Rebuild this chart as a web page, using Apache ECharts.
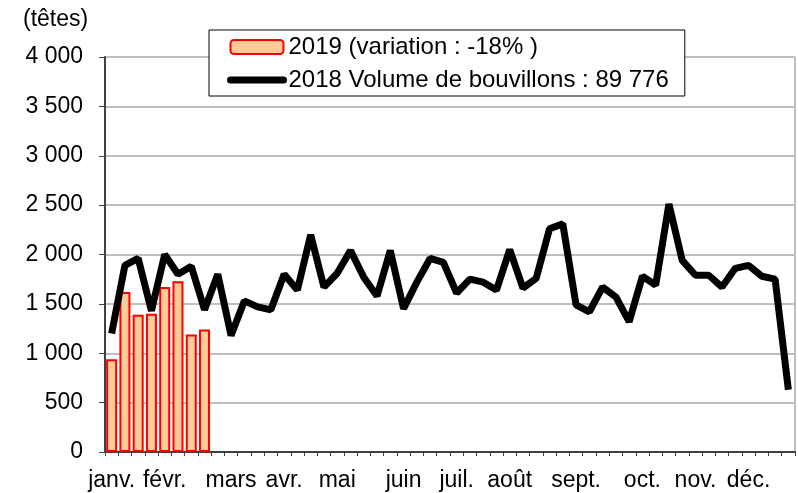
<!DOCTYPE html>
<html>
<head>
<meta charset="utf-8">
<script src="https://cdn.jsdelivr.net/npm/echarts@6/dist/echarts.min.js"></script>
<style>
  html, body { margin: 0; padding: 0; background: #fff; }
  #myChart { width: 798px; height: 493px; }
</style>
</head>
<body>
<div id="myChart"></div>
<script>
// month names and the week index where each one is written
const monthLabels = ["janv.", "févr.", "mars", "avr.", "mai", "juin", "juil.", "août", "sept.", "oct.", "nov.", "déc."];
const monthWeeks = [0, 4, 9, 13, 17, 22, 26, 30, 35, 40, 44, 48];

// 2019 weekly volumes (first 8 weeks)
const volume2019 = [940, 1620, 1390, 1400, 1670, 1730, 1190, 1240];

// 2018 weekly volumes (52 weeks)
const volume2018 = [
  1200, 1890, 1960, 1430, 2000, 1800, 1880, 1440, 1800, 1180,
  1530, 1470, 1440, 1800, 1640, 2200, 1670, 1810, 2040, 1770,
  1580, 2040, 1450, 1720, 1960, 1920, 1610, 1750, 1720, 1640,
  2050, 1660, 1760, 2260, 2310, 1490, 1420, 1670, 1570, 1320,
  1780, 1690, 2510, 1940, 1790, 1790, 1670, 1860, 1890, 1780,
  1750, 630
];

const yTicks = [0, 500, 1000, 1500, 2000, 2500, 3000, 3500, 4000];

const name2019 = "2019 (variation : -18% )";
const name2018 = "2018 Volume de bouvillons : 89 776";

let weeks = [];
for (let i = 0; i < volume2018.length; i++) {
  let k = monthWeeks.indexOf(i);
  weeks.push(k >= 0 ? monthLabels[k] : "");
}

function fmtThousands(v) {
  if (v < 1000) return String(v);
  return Math.floor(v / 1000) + " " + String(v % 1000).padStart(3, "0");
}

const font = "Liberation Sans, Arial, sans-serif";

const option = {
  animation: false,
  title: {
    text: "(têtes)",
    left: 23,
    top: 8,
    padding: 0,
    textStyle: { fontFamily: font, fontSize: 23, fontWeight: "normal", color: "#000" }
  },
  legend: {
    orient: "vertical",
    left: 209,
    top: 30,
    padding: [5, 16, 4, 18],
    itemWidth: 53,
    itemHeight: 14,
    itemGap: 9,
    backgroundColor: "#fff",
    borderColor: "#000",
    borderWidth: 1,
    textStyle: { fontFamily: font, fontSize: 24, color: "#000" },
    data: [
      { name: name2019 },
      {
        name: name2018,
        itemStyle: { opacity: 0 },
        lineStyle: { width: 7, cap: "round" }
      }
    ],
    z: 10
  },
  grid: {
    left: 105,
    right: 3,
    top: 57,
    bottom: 41,
    show: true,
    borderColor: "#808080",
    borderWidth: 1
  },
  xAxis: {
    type: "category",
    data: weeks,
    boundaryGap: true,
    axisLine: { lineStyle: { color: "#404040", width: 2 } },
    axisTick: { show: true, interval: 0, length: 4, lineStyle: { color: "#404040", width: 1 } },
    axisLabel: {
      interval: 0,
      margin: 17,
      fontFamily: font,
      fontSize: 23,
      color: "#000"
    },
    splitLine: { show: false }
  },
  yAxis: {
    type: "value",
    min: yTicks[0],
    max: yTicks[yTicks.length - 1],
    interval: 500,
    axisLine: { show: true, lineStyle: { color: "#404040", width: 2 } },
    axisTick: { show: true, length: 6, lineStyle: { color: "#404040", width: 1 } },
    axisLabel: {
      margin: 22,
      fontFamily: font,
      fontSize: 23,
      color: "#000",
      formatter: fmtThousands
    },
    splitLine: { show: true, lineStyle: { color: "#BFBFBF", width: 2 } }
  },
  series: [
    {
      name: name2019,
      type: "bar",
      barWidth: "83%",
      itemStyle: {
        color: "#FFCC99",
        borderColor: "#FF0000",
        borderWidth: 2
      },
      data: volume2019
    },
    {
      name: name2018,
      type: "line",
      symbol: "none",
      lineStyle: { color: "#000", width: 7 },
      itemStyle: { color: "#000" },
      data: volume2018
    }
  ]
};

let myChart = echarts.init(document.getElementById("myChart"));
myChart.setOption(option);
</script>
</body>
</html>
